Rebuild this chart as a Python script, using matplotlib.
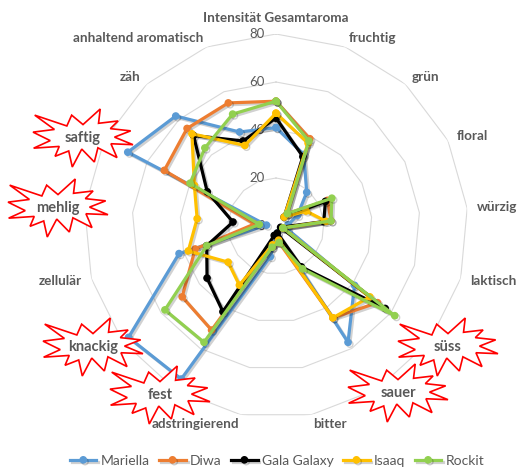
import numpy as np
import matplotlib.pyplot as plt
from matplotlib import patheffects as pe
from matplotlib.patches import Polygon

plt.rcParams['font.family'] = ['Lato', 'DejaVu Sans']

# Kategorien (im Uhrzeigersinn ab oben)
categories = ['Intensität Gesamtaroma', 'fruchtig', 'grün', 'floral', 'würzig',
              'laktisch', 'süss', 'sauer', 'bitter', 'adstringierend', 'fest',
              'knackig', 'zellulär', 'mehlig', 'saftig', 'zäh', 'anhaltend aromatisch']

mariella = [41, 32, 19, 10, 5, 5, 41, 57, 3, 13, 75, 77, 42, 4, 69, 62, 42]
diwa = [52, 39, 7, 24, 23, 3, 53, 45, 7, 9, 51, 49, 35, 9, 52, 55, 55]
gala_galaxy = [45, 31, 5, 23, 20, 2, 57, 20, 3, 4, 42, 36, 30, 18, 32, 51, 38]
isaaq = [47, 37, 5, 14, 21, 3, 49, 45, 6, 8, 29, 25, 38, 33, 38, 52, 36]
rockit = [52, 38, 7, 26, 23, 3, 62, 21, 7, 9, 57, 58, 30, 7, 40, 44, 50]

series_names = ['Mariella', 'Diwa', 'Gala Galaxy', 'Isaaq', 'Rockit']
series_values = [mariella, diwa, gala_galaxy, isaaq, rockit]
series_colors = ['#5B9BD5', '#ED7D31', '#000000', '#FFC000', '#92D050']

grid_levels = [0, 20, 40, 60, 80]

# hervorgehobene Kategorien (Explosionsform)
starred = ['saftig', 'mehlig', 'knackig', 'fest', 'süss', 'sauer']
star_centers = [(83, 138), (58, 208), (93, 347), (160, 395), (448, 347), (398, 393)]

W, H = 517, 473
fig = plt.figure(figsize=(W / 100, H / 100), dpi=100)

cx, cy, R = 276, 226, 192
ax = fig.add_axes([(cx - R) / W, (H - cy - R) / H, 2 * R / W, 2 * R / H],
                  projection='polar')
ax.set_theta_zero_location('N')
ax.set_theta_direction(-1)
ax.set_ylim(0, 80)
ax.grid(False)
ax.spines['polar'].set_visible(False)
ax.set_xticks([])
ax.set_yticks([])
ax.patch.set_alpha(0)

n = len(categories)
angles = np.arange(n) * 2 * np.pi / n
closed = np.append(angles, angles[0])

# polygonale Gitterlinien
for lvl in grid_levels[1:]:
    ax.plot(closed, [lvl] * (n + 1), color='#D9D9D9', lw=0.8, zorder=1)

for lvl in grid_levels:
    ax.annotate(str(lvl), xy=(0, lvl), xytext=(-8, 0), textcoords='offset points',
                ha='right', va='center', fontsize=9.5, color='#595959')

shadow = [pe.SimpleLineShadow(offset=(1.3, -1.3), shadow_color='k', alpha=0.18),
          pe.Normal()]
handles = []
for name, vals, col in zip(series_names, series_values, series_colors):
    v = np.append(vals, vals[0])
    ln, = ax.plot(closed, v, color=col, lw=2.3, marker='o', markersize=4.5,
                  label=name, zorder=3, path_effects=shadow)
    handles.append(ln)

# Achsenbeschriftungen
for ang, lab in zip(angles, categories):
    if lab in starred:
        continue
    s, c = np.sin(ang), np.cos(ang)
    ha = 'left' if s > 0.1 else ('right' if s < -0.1 else 'center')
    va = 'center'
    if abs(s) < 0.1:
        va = 'bottom' if c > 0 else 'top'
    ax.text(ang, 84, lab, ha=ha, va=va, fontsize=9.7, fontweight='bold',
            color='#595959')

# Explosionsformen
seal = np.array([[10800, 5800], [14522, 0], [14155, 5325], [18380, 4457],
                 [16702, 7315], [21097, 8137], [17607, 10475], [21600, 13290],
                 [16837, 12942], [18145, 18095], [14020, 14457], [13247, 19737],
                 [10532, 14935], [8485, 21600], [7715, 15627], [4762, 17617],
                 [5667, 13937], [135, 14587], [3722, 11775], [0, 8615],
                 [4627, 7617], [370, 2295], [7312, 6320], [8352, 2295]]) / 21600.0
sw, sh = 100, 58
for lab, (sx, sy) in zip(starred, star_centers):
    px = sx - sw / 2 + seal[:, 0] * sw
    py = sy - sh / 2 + seal[:, 1] * sh
    poly = Polygon(np.column_stack([px / W, 1 - py / H]), closed=True,
                   transform=fig.transFigure, facecolor='white',
                   edgecolor='#FF0000', lw=1.2, zorder=10)
    fig.add_artist(poly)
    fig.text(sx / W, 1 - sy / H, lab, ha='center', va='center', fontsize=10.5,
             fontweight='bold', color='#595959', zorder=11)

fig.legend(handles, series_names, loc='center', bbox_to_anchor=(0.536, 0.026),
           ncol=5, frameon=False, fontsize=10, handlelength=1.9,
           handletextpad=0.3, columnspacing=0.7, labelcolor='#595959')

fig.savefig('out.png', dpi=100)
